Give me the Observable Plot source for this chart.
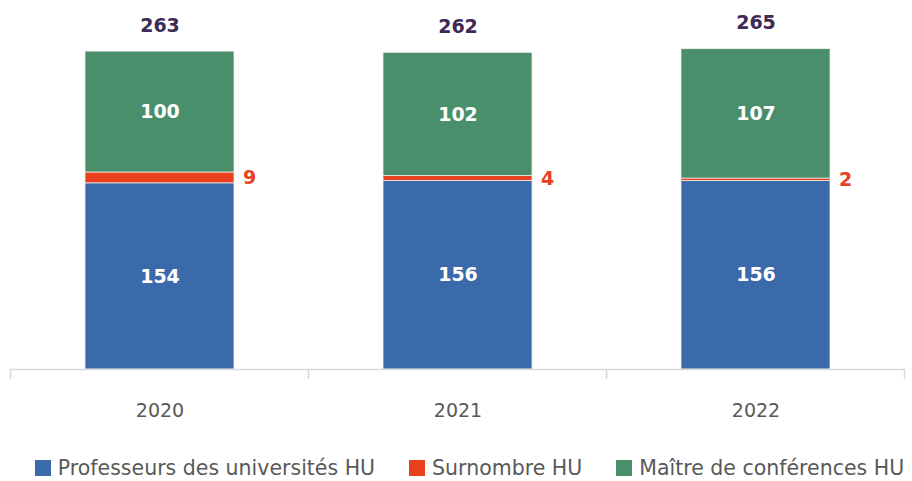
<!DOCTYPE html>
<html>
<head>
<meta charset="utf-8">
<script src="https://cdn.jsdelivr.net/npm/d3@7"></script>
<script src="https://cdn.jsdelivr.net/npm/@observablehq/plot@0.6"></script>
<style>
  html, body { margin: 0; padding: 0; background: #fff; }
  #chart { width: 912px; }
  .legend { display: flex; justify-content: center; gap: 34px; margin-top: 9px; margin-left: 27px;
    font-family: "DejaVu Sans", sans-serif; font-size: 20.5px; color: #595959; line-height: 22px; white-space: nowrap; }
  .legend span.item { display: inline-flex; align-items: center; }
  .legend span.sw { width: 16px; height: 16px; display: inline-block; margin-right: 7px; }
</style>
</head>
<body>
<div id="chart"></div>
<script>
const years = ["2020", "2021", "2022"];
const series = ["Professeurs des universités HU", "Surnombre HU", "Maître de conférences HU"];
const professeurs = [154, 156, 156];
const surnombre = [9, 4, 2];
const maitres = [100, 102, 107];
const totals = [263, 262, 265];
const colors = ["#3B6AAA", "#E8411E", "#4A8F6B"];

const rows = [];
years.forEach((y, i) => {
  rows.push({year: y, series: series[0], value: professeurs[i]});
  rows.push({year: y, series: series[1], value: surnombre[i]});
  rows.push({year: y, series: series[2], value: maitres[i]});
});
const totalRows = years.map((y, i) => ({year: y, total: totals[i]}));

const axisColor = "#D9D9D9";

function bandTicks(index, scales, values, dimensions) {
  const x = scales.x, yS = scales.y;
  const y0 = yS(0);
  const step = typeof x.step === "function" ? x.step() : (dimensions.width - dimensions.marginLeft - dimensions.marginRight) / years.length;
  const bw = typeof x.bandwidth === "function" ? x.bandwidth() : step * 0.5;
  const g = d3.create("svg:g");
  const xs = years.map(d => x(d) + bw / 2 - step / 2);
  xs.push(x(years[years.length - 1]) + bw / 2 + step / 2);
  for (const xv of xs) {
    g.append("line").attr("x1", xv).attr("x2", xv).attr("y1", y0).attr("y2", y0 + 10)
      .attr("stroke", axisColor).attr("stroke-width", 1.5);
  }
  return g.node();
}

const chart = Plot.plot({
  width: 912,
  height: 448,
  marginTop: 10,
  marginBottom: 79,
  marginLeft: 10,
  marginRight: 7,
  style: {fontFamily: "DejaVu Sans, sans-serif", background: "#fff"},
  x: {domain: years, paddingInner: 0.5, paddingOuter: 0.25, label: null},
  y: {domain: [0, 297], axis: null},
  color: {domain: series, range: colors},
  marks: [
    Plot.barY(rows, {x: "year", y: "value", fill: "series", order: series, stroke: "#f2f2f2", strokeWidth: 0.75}),
    Plot.ruleY([0], {stroke: axisColor, strokeWidth: 1.5}),
    bandTicks,
    Plot.axisX({tickSize: 0, tickPadding: 34, fontSize: 19, color: "#595959"}),
    Plot.text(rows, Plot.stackY({x: "year", y: "value", z: "series", order: series,
      text: d => d.series === series[1] ? null : String(d.value),
      fill: "white", fontWeight: "bold", fontSize: 19})),
    Plot.text(rows, Plot.stackY({x: "year", y: "value", z: "series", order: series,
      text: d => d.series === series[1] ? String(d.value) : null,
      fill: colors[1], fontWeight: "bold", fontSize: 19, textAnchor: "start", dx: 83})),
    Plot.text(totalRows, {x: "year", y: "total", text: d => String(d.total), dy: -26,
      fill: "#3D2A55", fontWeight: "bold", fontSize: 19})
  ]
});
document.getElementById("chart").appendChild(chart);

const legend = d3.select("#chart").append("div").attr("class", "legend");
series.forEach((s, i) => {
  const item = legend.append("span").attr("class", "item");
  item.append("span").attr("class", "sw").style("background", colors[i]);
  item.append("span").text(s);
});
</script>
</body>
</html>
